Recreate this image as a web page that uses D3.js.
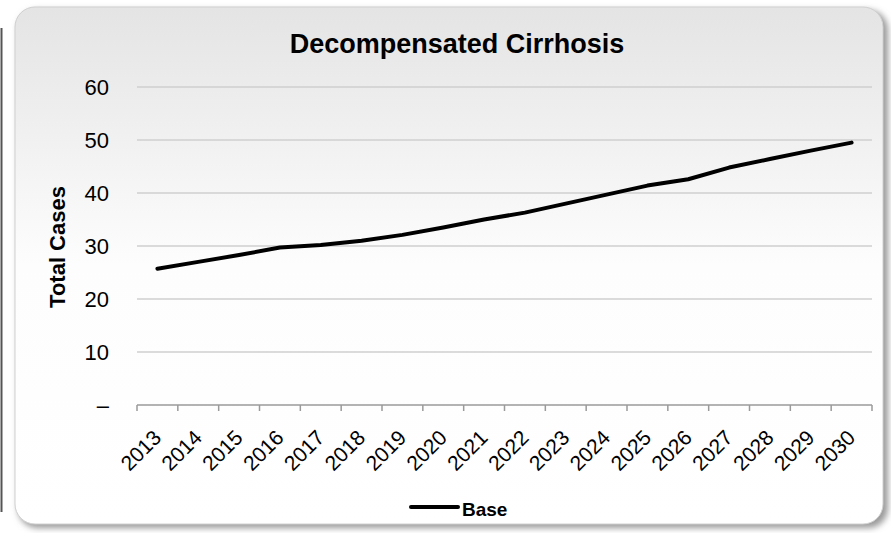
<!DOCTYPE html>
<html>
<head>
<meta charset="utf-8">
<script src="https://cdn.jsdelivr.net/npm/d3@7"></script>
<style>
  body { margin: 0; background: #fff; }
  text { font-family: "Liberation Sans", Arial, sans-serif; }
</style>
</head>
<body>
<div id="chart"></div>
<script>
const width = 891;
const height = 533;

// data
const years = ["2013", "2014", "2015", "2016", "2017", "2018", "2019", "2020", "2021",
    "2022", "2023", "2024", "2025", "2026", "2027", "2028", "2029", "2030"];
const baseCases = [25.7, 27.0, 28.3, 29.7, 30.2, 31.0, 32.1, 33.5, 35.0,
    36.3, 38.0, 39.7, 41.4, 42.6, 44.8, 46.4, 48.0, 49.5];
const yTicks = [0, 10, 20, 30, 40, 50, 60];

const svg = d3.select("#chart")
    .append("svg")
    .attr("width", width)
    .attr("height", height);

const defs = svg.append("defs");

const grad = defs.append("linearGradient")
    .attr("id", "bg")
    .attr("x1", 0).attr("y1", 0).attr("x2", 0).attr("y2", 1);
grad.append("stop").attr("offset", "0%").attr("stop-color", "#e4e4e4");
grad.append("stop").attr("offset", "50%").attr("stop-color", "#fdfdfd");
grad.append("stop").attr("offset", "100%").attr("stop-color", "#ffffff");

const blur = defs.append("filter").attr("id", "shadow")
    .attr("x", "-5%").attr("y", "-5%").attr("width", "110%").attr("height", "110%");
blur.append("feGaussianBlur").attr("stdDeviation", 3);

// bord gauche d'un autre panneau
svg.append("line")
    .attr("x1", 1.5).attr("x2", 1.5)
    .attr("y1", 28).attr("y2", 512)
    .attr("stroke", "#555")
    .attr("stroke-width", 2);

// ombre + panneau
svg.append("rect")
    .attr("x", 18).attr("y", 10)
    .attr("width", 870).attr("height", 518)
    .attr("rx", 20)
    .attr("fill", "#9a9a9a")
    .attr("filter", "url(#shadow)");

svg.append("rect")
    .attr("x", 15).attr("y", 7)
    .attr("width", 868).attr("height", 517)
    .attr("rx", 20)
    .attr("fill", "url(#bg)")
    .attr("stroke", "#d0d0d0")
    .attr("stroke-width", 1);

// scales
const x = d3.scaleBand()
    .domain(years)
    .range([137, 872]);

const y = d3.scaleLinear()
    .domain([0, 60])
    .range([405, 87]);

// grid
svg.append("g")
    .selectAll("line")
    .data(yTicks.filter(d => d > 0))
    .enter()
    .append("line")
    .attr("x1", 137)
    .attr("x2", 872)
    .attr("y1", d => y(d))
    .attr("y2", d => y(d))
    .attr("stroke", "#cfcfcf")
    .attr("stroke-width", 1.5);

// y labels
svg.append("g")
    .selectAll("text")
    .data(yTicks)
    .enter()
    .append("text")
    .attr("x", 109)
    .attr("y", d => y(d))
    .attr("dy", "0.36em")
    .attr("text-anchor", "end")
    .attr("fill", "#000")
    .style("font-size", "22px")
    .text(d => d === 0 ? "–" : d);

// x axis
const xAxis = svg.append("g");
xAxis.append("line")
    .attr("x1", 137).attr("x2", 872)
    .attr("y1", y(0)).attr("y2", y(0))
    .attr("stroke", "#9a9a9a")
    .attr("stroke-width", 1.5);

const bounds = years.map(d => x(d)).concat([x.range()[1]]);
xAxis.selectAll(".tick")
    .data(bounds)
    .enter()
    .append("line")
    .attr("x1", d => d).attr("x2", d => d)
    .attr("y1", y(0)).attr("y2", y(0) + 6)
    .attr("stroke", "#9a9a9a")
    .attr("stroke-width", 1.5);

xAxis.selectAll(".lbl")
    .data(years)
    .enter()
    .append("text")
    .attr("text-anchor", "end")
    .attr("fill", "#000")
    .style("font-size", "21px")
    .attr("transform", d => `translate(${x(d) + x.bandwidth() / 2 + 5},${y(0) + 34}) rotate(-45)`)
    .text(d => d);

// titres
svg.append("text")
    .attr("x", 457)
    .attr("y", 53)
    .attr("text-anchor", "middle")
    .attr("fill", "#000")
    .style("font-size", "27px")
    .style("font-weight", "bold")
    .text("Decompensated Cirrhosis");

svg.append("text")
    .attr("transform", "translate(65,247) rotate(-90)")
    .attr("text-anchor", "middle")
    .attr("fill", "#000")
    .style("font-size", "22px")
    .style("font-weight", "bold")
    .text("Total Cases");

// line
const line = d3.line()
    .x((d, i) => x(years[i]) + x.bandwidth() / 2)
    .y(d => y(d));

svg.append("path")
    .datum(baseCases)
    .attr("d", line)
    .attr("fill", "none")
    .attr("stroke", "#000")
    .attr("stroke-width", 4)
    .attr("stroke-linecap", "round")
    .attr("stroke-linejoin", "round");

// legende
svg.append("line")
    .attr("x1", 411).attr("x2", 458)
    .attr("y1", 507).attr("y2", 507)
    .attr("stroke", "#000")
    .attr("stroke-width", 4)
    .attr("stroke-linecap", "round");

svg.append("text")
    .attr("x", 462)
    .attr("y", 509)
    .attr("dy", "0.35em")
    .attr("fill", "#000")
    .style("font-size", "19px")
    .style("font-weight", "bold")
    .text("Base");
</script>
</body>
</html>
